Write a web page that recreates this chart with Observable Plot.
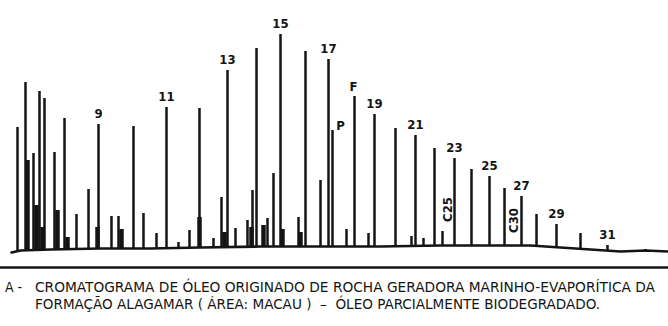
<!DOCTYPE html>
<html><head><meta charset="utf-8">
<script src="https://cdn.jsdelivr.net/npm/d3@7"></script>
<script src="https://cdn.jsdelivr.net/npm/@observablehq/plot@0.6"></script>
<style>
html,body{margin:0;padding:0;background:#fff;}
svg{display:block;}
#caption text{fill:#141414;white-space:pre;}
</style></head>
<body>
<div id="chart"></div>
<svg id="caption" width="668" height="56" font-family="'Liberation Sans Narrow','Arial Narrow','DejaVu Sans Condensed',sans-serif" font-size="14">
  <text x="5" y="22">A -</text>
  <text x="35" y="22" textLength="620" lengthAdjust="spacingAndGlyphs">CROMATOGRAMA DE ÓLEO ORIGINADO DE ROCHA GERADORA MARINHO-EVAPORÍTICA DA</text>
  <text x="35" y="39" textLength="565" lengthAdjust="spacingAndGlyphs">FORMAÇÃO ALAGAMAR ( ÁREA: MACAU )  –  ÓLEO PARCIALMENTE BIODEGRADADO.</text>
</svg>
<script>
// Retention position (arbitrary units) and detector response (arbitrary units)
const baseX = [11, 20, 50, 100, 150, 200, 260, 320, 380, 440, 500, 530, 560, 590, 620, 645, 668];
const baseH = [15, 17, 18, 19, 19, 20, 21, 21, 21, 22, 22, 22, 20, 18, 16, 17, 16];

const peakX = [17, 25, 33, 39, 44, 54, 64, 76, 88, 98, 111, 118, 133, 143, 156, 166, 178, 189, 199, 213,
               221, 227, 235, 247, 252, 256, 267, 273, 280, 298, 305, 320, 328, 332, 346, 354, 368, 374,
               395, 411, 415, 423, 434, 442, 454, 471, 489, 504, 521, 536, 556, 580, 607, 645];
const peakH = [140, 185, 114, 176, 169, 115, 149, 53, 78, 143, 51, 51, 141, 54, 34, 160, 25, 37, 159, 29,
               70, 197, 39, 47, 77, 219, 49, 94, 233, 50, 216, 87, 208, 137, 38, 171, 34, 153,
               139, 31, 132, 29, 119, 36, 109, 98, 91, 79, 71, 53, 43, 34, 22, 18];

// unresolved humps at the foot of the early peaks
const humpX = [27, 36, 42, 57, 67, 97, 121, 199, 224, 251, 263, 282, 300];
const humpH = [107, 62, 40, 57, 30, 40, 38, 50, 35, 40, 42, 38, 35];

// n-alkane and isoprenoid labels
const labelX = [98, 166, 227, 280, 328, 374, 415, 454, 489, 521, 556, 607];
const labelText = ["9", "11", "13", "15", "17", "19", "21", "23", "25", "27", "29", "31"];
const pristaneX = 332, phytaneX = 354;
const c25X = 442, c30X = 504;

const baseAt = d3.scaleLinear().domain(baseX).range(baseH);
const peaks = peakX.map((x, i) => ({x, top: peakH[i], base: baseAt(x)}));
const humps = humpX.map((x, i) => ({x, top: humpH[i], base: baseAt(x)}));
const baseline = baseX.map((x, i) => ({x, h: baseH[i]}));
const peakOf = x => peaks.find(p => p.x === x);
const labels = labelX.map((x, i) => ({...peakOf(x), text: labelText[i]}));

const ink = "#141414";
const font = "'Liberation Sans Narrow','Arial Narrow','DejaVu Sans Condensed',sans-serif";
const fs = 13;

const plot = Plot.plot({
  width: 668,
  height: 270,
  margin: 0,
  marginBottom: 3,
  x: {domain: [0, 668], axis: null},
  y: {domain: [0, 267], axis: null},
  style: {background: "white", fontFamily: font},
  marks: [
    Plot.ruleY([0], {stroke: ink, strokeWidth: 2.5}),
    Plot.ruleX(humps, {x: "x", y1: "base", y2: "top", stroke: ink, strokeWidth: 4.5}),
    Plot.line(baseline, {x: "x", y: "h", stroke: ink, strokeWidth: 2.6}),
    Plot.ruleX(peaks, {x: "x", y1: "base", y2: "top", stroke: ink, strokeWidth: 2.5}),
    Plot.text(labels, {x: "x", y: "top", text: "text", dy: -11, fill: ink, fontSize: fs, fontWeight: "bold"}),
    Plot.text([peakOf(pristaneX)], {x: "x", y: "top", text: () => "P", dx: 8, dy: -5, fill: ink, fontSize: fs, fontWeight: "bold"}),
    Plot.text([peakOf(phytaneX)], {x: "x", y: "top", text: () => "F", dx: -1, dy: -10, fill: ink, fontSize: fs, fontWeight: "bold"}),
    Plot.text([peakOf(c25X)], {x: "x", y: "top", text: () => "C25", rotate: -90, dx: 5, dy: -22, fill: ink, fontSize: fs, fontWeight: "bold"}),
    Plot.text([peakOf(c30X)], {x: "x", y: "top", text: () => "C30", rotate: -90, dx: 9, dy: 32, fill: ink, fontSize: fs, fontWeight: "bold"})
  ]
});
document.getElementById("chart").appendChild(plot);
</script>
</body></html>
